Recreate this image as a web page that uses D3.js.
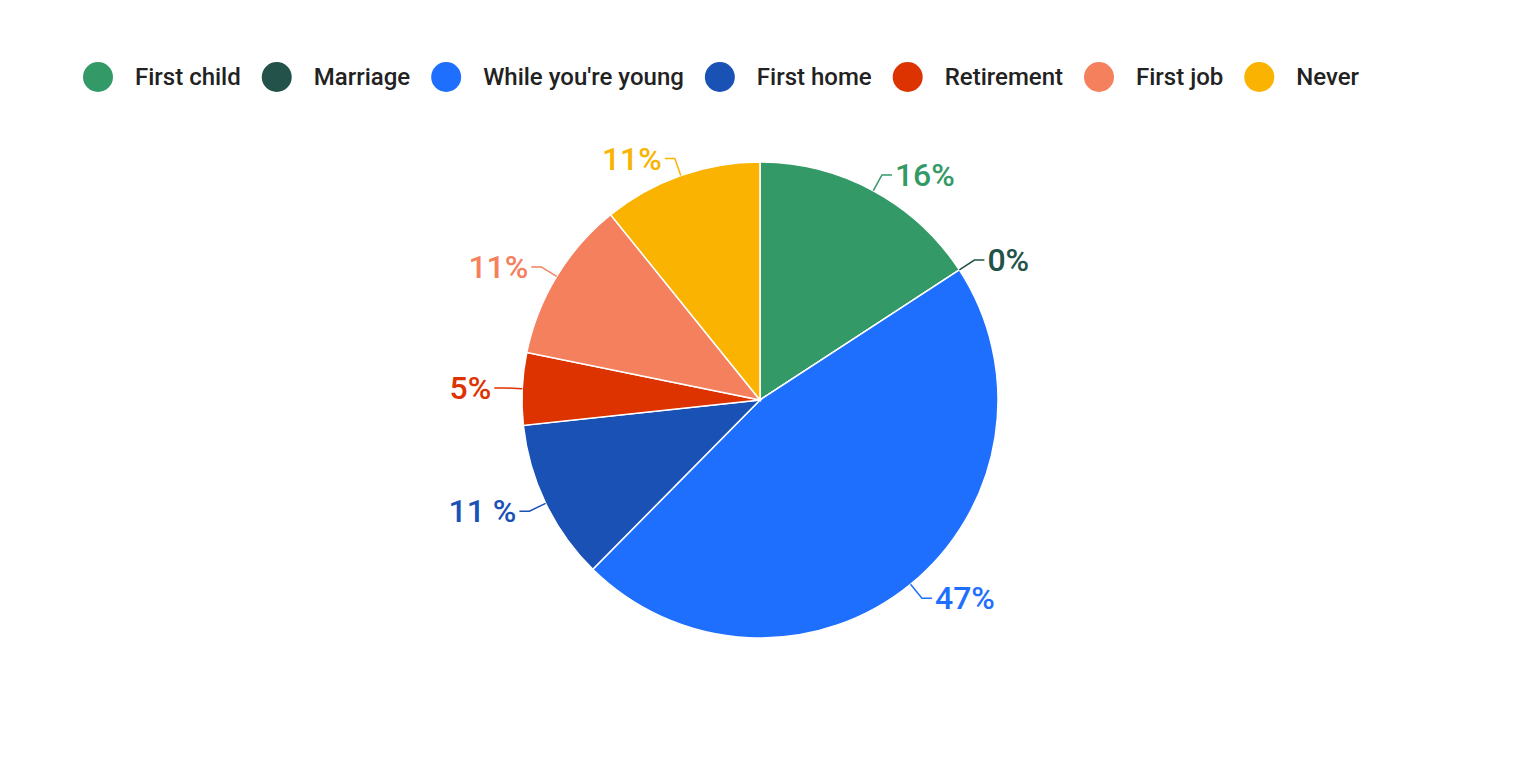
<!DOCTYPE html>
<html><head><meta charset="utf-8">
<script src="https://cdn.jsdelivr.net/npm/d3@7"></script>
<style>body{margin:0;background:#fff;font-family:Roboto,sans-serif}</style>
</head><body><svg id="c" width="1520" height="762"></svg>
<script>
const categories = ["First child","Marriage","While you're young","First home","Retirement","First job","Never"];
const values = [15.8, 0, 46.6, 10.9, 4.9, 11, 10.8];
const labels = ["16%","0%","47%","11 %","5%","11%","11%"];
const colors = ["#339966","#22524a","#1f6fff","#1a51b5","#dd3300","#f5805e","#f9b300"];

const svg = d3.select("#c");
// legend
const lg = svg.append("g");
let x = 82;
categories.forEach((c,i)=>{
  lg.append("circle").attr("cx",x+16).attr("cy",77).attr("r",15).attr("fill",colors[i]);
  const t = lg.append("text").attr("x",x+53).attr("y",85).attr("font-size",24).attr("font-weight",500).attr("fill","#222").text(c);
  x += 53 + t.node().getComputedTextLength() + 20;
});
const cx=760, cy=400, r=238;
const g = svg.append("g").attr("transform",`translate(${cx},${cy})`);
const pie = d3.pie().sort(null).value(d=>d);
const arcs = pie(values);
const arc = d3.arc().innerRadius(0).outerRadius(r);
g.selectAll("path").data(arcs).join("path").attr("d",arc)
  .attr("fill",(d,i)=>colors[i]).attr("stroke","#fff").attr("stroke-width",1.5);
arcs.forEach((d,i)=>{
  const a=(d.startAngle+d.endAngle)/2;
  const sx=Math.sin(a), sy=-Math.cos(a);
  const p0=[sx*r, sy*r], p1=[sx*(r+18), sy*(r+18)];
  const right = sx>=0;
  const p2=[p1[0]+(right?10:-10), p1[1]];
  g.append("polyline").attr("points",[p0,p1,p2].map(p=>p.join(",")).join(" "))
    .attr("fill","none").attr("stroke",colors[i]).attr("stroke-width",1.5);
  g.append("text").attr("x",p2[0]+(right?3:-3)).attr("y",p2[1]+11)
    .attr("text-anchor",right?"start":"end").attr("font-size",32).attr("font-weight",500)
    .attr("fill",colors[i]).text(labels[i]);
});
</script></body></html>
